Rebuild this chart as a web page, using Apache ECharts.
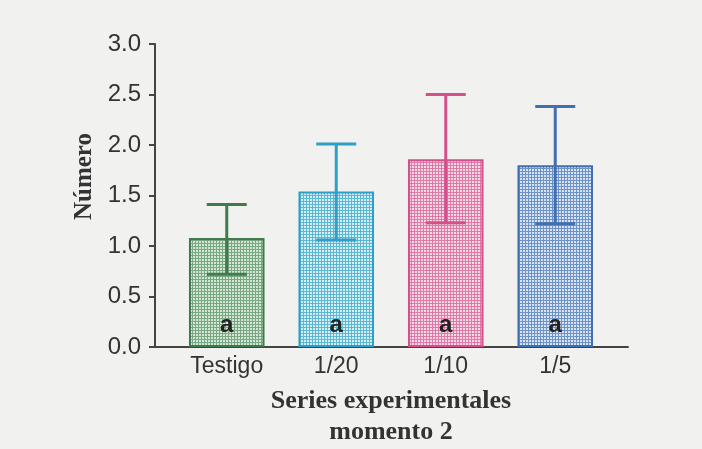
<!DOCTYPE html>
<html>
<head>
<meta charset="utf-8">
<script src="https://cdn.jsdelivr.net/npm/echarts@6/dist/echarts.min.js"></script>
<style>
  html, body { margin: 0; padding: 0; background: #f1f1f0; }
  #chart { width: 702px; height: 449px; }
</style>
</head>
<body>
<div id="chart"></div>
<script>
// Mean number per experimental series (moment 2) with error ranges
const categories = ['Testigo', '1/20', '1/10', '1/5'];
const means      = [1.08, 1.54, 1.86, 1.80];
const errLow     = [0.72, 1.06, 1.23, 1.22];
const errHigh    = [1.41, 2.01, 2.50, 2.38];
const groupLetters = ['a', 'a', 'a', 'a'];
const yTicks = [0, 0.5, 1.0, 1.5, 2.0, 2.5, 3.0];

// Per-bar palette: outline/error colour, grid line colour, fill colour
const palette = [
  { edge: '#3f7b4d', line: '#79a683', fill: '#d3e6d3' },
  { edge: '#2e9fc6', line: '#5cb7d3', fill: '#d6eff6' },
  { edge: '#d4508a', line: '#df79a6', fill: '#f7d9e7' },
  { edge: '#416fb0', line: '#6e93c8', fill: '#d8e3f2' }
];

const SANS = 'Liberation Sans, Arial, sans-serif';
const SERIF = 'Liberation Serif, Times New Roman, serif';

// Small cross-hatched tile used as the bar fill
function hatch(p) {
  const c = document.createElement('canvas');
  c.width = 3; c.height = 3;
  const g = c.getContext('2d');
  g.fillStyle = p.fill;
  g.fillRect(0, 0, 3, 3);
  g.fillStyle = p.line;
  g.fillRect(0, 0, 3, 1);
  g.fillRect(0, 0, 1, 3);
  return { image: c, repeat: 'repeat' };
}

const chart = echarts.init(document.getElementById('chart'), null, { renderer: 'canvas' });

const barData = means.map((v, i) => ({
  value: v,
  itemStyle: { color: hatch(palette[i]), borderColor: palette[i].edge, borderWidth: 2 }
}));

const errData = categories.map((c, i) => [i, errLow[i], errHigh[i]]);

const gridTop = 44, gridBottom = 102;

chart.setOption({
  backgroundColor: '#f1f1f0',
  animation: false,
  grid: [
    { left: 172, right: 92, top: gridTop, bottom: gridBottom, containLabel: false, outerBoundsMode: 'none' },
    { left: 155, right: 74, top: gridTop, bottom: gridBottom, containLabel: false, outerBoundsMode: 'none' }
  ],
  xAxis: [
    {
      type: 'category',
      gridIndex: 0,
      data: categories,
      axisLine: { show: false },
      axisTick: { show: false },
      axisLabel: { color: '#333', fontFamily: SANS, fontSize: 23, margin: 8 },
      name: 'Series experimentales\nmomento 2',
      nameLocation: 'middle',
      nameGap: 39,
      nameTextStyle: { fontFamily: SERIF, fontWeight: 'bold', fontSize: 26, color: '#333', lineHeight: 31 }
    },
    {
      type: 'category',
      gridIndex: 1,
      data: categories,
      axisLine: { show: true, lineStyle: { color: '#444', width: 2 } },
      axisTick: { show: false },
      axisLabel: { show: false }
    }
  ],
  yAxis: [
    {
      type: 'value',
      gridIndex: 0,
      min: 0, max: 3, interval: 0.5,
      offset: 17,
      axisLine: { show: true, lineStyle: { color: '#444', width: 2 } },
      axisTick: { show: true, length: 6, lineStyle: { color: '#444', width: 2 } },
      splitLine: { show: false },
      axisLabel: {
        color: '#333', fontFamily: SANS, fontSize: 24, margin: 14,
        formatter: v => yTicks.includes(v) ? v.toFixed(1) : ''
      },
      name: 'Número',
      nameLocation: 'middle',
      nameGap: 57,
      nameRotate: 90,
      nameTextStyle: { fontFamily: SERIF, fontWeight: 'bold', fontSize: 25, color: '#333', padding: [0, 0, 0, 38] }
    },
    { type: 'value', gridIndex: 1, min: 0, max: 3, show: false }
  ],
  series: [
    {
      type: 'bar',
      xAxisIndex: 0, yAxisIndex: 0,
      data: barData,
      barCategoryGap: '31%',
      label: {
        show: true,
        position: 'insideBottom',
        distance: 10,
        formatter: p => groupLetters[p.dataIndex],
        color: '#222',
        fontFamily: SANS,
        fontWeight: 'bold',
        fontSize: 24
      },
      z: 2
    },
    {
      type: 'custom',
      xAxisIndex: 0, yAxisIndex: 0,
      data: errData,
      z: 3,
      renderItem: function (params, api) {
        const i = api.value(0);
        const lo = api.coord([i, api.value(1)]);
        const hi = api.coord([i, api.value(2)]);
        const half = 20;
        const col = palette[params.dataIndex].edge;
        const style = { stroke: col, lineWidth: 3 };
        return {
          type: 'group',
          children: [
            { type: 'line', shape: { x1: hi[0], y1: hi[1], x2: lo[0], y2: lo[1] }, style },
            { type: 'line', shape: { x1: hi[0] - half, y1: hi[1], x2: hi[0] + half, y2: hi[1] }, style },
            { type: 'line', shape: { x1: lo[0] - half, y1: lo[1], x2: lo[0] + half, y2: lo[1] }, style }
          ]
        };
      }
    }
  ]
});
</script>
</body>
</html>
